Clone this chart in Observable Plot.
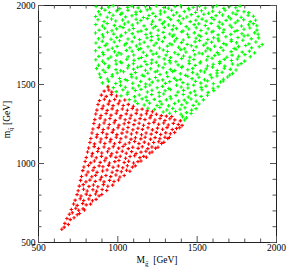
<!DOCTYPE html>
<html>
<head>
<meta charset="utf-8">
<script src="https://cdn.jsdelivr.net/npm/d3@7"></script>
<script src="https://cdn.jsdelivr.net/npm/@observablehq/plot@0.6"></script>
<style>
html, body { margin: 0; padding: 0; background: white; }
</style>
</head>
<body>
<div id="chart"></div>
<script>
// Axis values
const xTicks = [500, 1000, 1500, 2000];
const yTicks = [500, 1000, 1500, 2000];
const minorTicks = [600, 700, 800, 900, 1100, 1200, 1300, 1400, 1600, 1700, 1800, 1900];
const xLabel = ["M", "g\u0303", "\u00a0\u00a0[GeV]"];
const yLabel = ["m", "q\u0303", "\u00a0[GeV]"];

// Green points [M_gluino, m_squark]
const greenPoints = [
[863,1994],[897,1983],[942,1990],[971,1998],[1012,1980],[1062,1988],[1089,1996],[1128,1985],[1174,1992],[1205,1979],[1242,1997],[1290,1987],[1318,1983],[1361,1993],[1396,1999],[1445,1981],[1475,1989],[1515,1995],[1551,1984],[1598,1991],[1624,1998],[1668,1982],[1701,1993],[1743,1986],[1770,1996],
[879,1960],[919,1971],[947,1955],[993,1966],[1026,1952],[1064,1969],[1114,1958],[1143,1963],[1185,1972],[1221,1950],[1268,1965],[1295,1959],[1339,1970],[1371,1954],[1419,1962],[1449,1973],[1490,1956],[1527,1967],[1572,1951],[1598,1964],[1641,1957],[1676,1970],[1725,1953],[1756,1966],[1795,1960],[1825,1955],
[860,1930],[889,1941],[933,1926],[970,1938],[1018,1944],[1049,1928],[1089,1935],[1115,1943],[1161,1924],[1196,1937],[1238,1931],[1268,1946],[1317,1925],[1351,1939],[1390,1933],[1435,1927],[1463,1942],[1506,1930],[1542,1945],[1592,1923],[1619,1936],[1660,1940],[1698,1929],[1745,1944],[1777,1926],[1821,1938],[1854,1932],
[875,1910],[913,1899],[960,1915],[987,1902],[1030,1908],[1065,1896],[1115,1913],[1145,1905],[1186,1917],[1219,1900],[1265,1909],[1293,1897],[1333,1912],[1381,1904],[1412,1916],[1456,1898],[1492,1907],[1531,1914],[1557,1901],[1606,1911],[1640,1895],[1682,1906],[1711,1916],[1756,1903],[1793,1910],[1834,1898],[1868,1907],
[861,1880],[903,1870],[933,1886],[978,1874],[1014,1867],[1042,1883],[1091,1876],[1125,1889],[1165,1871],[1212,1881],[1238,1868],[1281,1885],[1319,1877],[1350,1872],[1396,1888],[1431,1866],[1481,1879],[1510,1884],[1551,1873],[1588,1887],[1632,1869],[1659,1882],[1707,1875],[1740,1890],[1779,1870],[1824,1878],[1854,1885],[1876,1872],
[882,1844],[917,1856],[963,1840],[992,1852],[1033,1860],[1071,1845],[1098,1854],[1146,1838],[1179,1849],[1223,1858],[1254,1843],[1293,1861],[1343,1847],[1369,1855],[1411,1839],[1447,1851],[1494,1859],[1524,1842],[1569,1853],[1601,1837],[1641,1857],[1669,1846],[1718,1862],[1752,1841],[1795,1850],[1832,1858],[1877,1844],
[859,1826],[903,1815],[935,1831],[974,1819],[1021,1812],[1049,1828],[1091,1822],[1127,1834],[1177,1816],[1207,1825],[1252,1810],[1286,1830],[1327,1820],[1354,1813],[1402,1833],[1439,1818],[1482,1827],[1511,1811],[1557,1824],[1592,1832],[1632,1814],[1663,1829],[1712,1817],[1738,1835],[1782,1821],[1820,1812],[1862,1827],[1884,1818],
[878,1790],[909,1801],[957,1786],[993,1797],[1019,1805],[1064,1788],[1104,1799],[1137,1784],[1184,1795],[1213,1803],[1256,1787],[1294,1798],[1344,1806],[1371,1791],[1412,1782],[1447,1800],[1493,1793],[1523,1804],[1567,1785],[1604,1796],[1632,1789],[1681,1802],[1715,1783],[1757,1797],[1796,1807],[1841,1789],[1887,1795],
[862,1763],[902,1774],[931,1757],[977,1769],[1011,1777],[1053,1760],[1090,1771],[1139,1756],[1166,1767],[1210,1779],[1242,1762],[1281,1772],[1328,1758],[1358,1775],[1401,1765],[1437,1754],[1487,1770],[1515,1778],[1556,1761],[1591,1768],[1636,1776],[1667,1759],[1715,1773],[1748,1764],[1788,1780],[1826,1757],[1870,1769],[1910,1753],
[883,1735],[920,1746],[965,1729],[995,1741],[1043,1750],[1076,1733],[1117,1744],[1144,1727],[1190,1739],[1228,1748],[1263,1731],[1312,1743],[1341,1752],[1383,1736],[1419,1726],[1463,1745],[1494,1738],[1541,1749],[1567,1730],[1610,1742],[1649,1734],[1683,1751],[1733,1728],[1761,1740],[1806,1747],[1843,1732],[1891,1739],
[860,1714],[905,1703],[938,1719],[979,1707],[1007,1700],[1054,1716],[1090,1710],[1130,1722],[1160,1704],[1209,1713],[1243,1698],[1286,1718],[1313,1709],[1359,1701],[1397,1721],[1429,1706],[1477,1715],[1512,1699],[1554,1712],[1583,1720],[1627,1702],[1664,1717],[1714,1708],[1745,1723],[1784,1705],[1829,1711],[1862,1700],
[880,1678],[910,1689],[956,1674],[994,1685],[1021,1693],[1065,1676],[1100,1687],[1149,1671],[1181,1683],[1222,1692],[1259,1675],[1304,1686],[1332,1670],[1380,1690],[1414,1680],[1454,1673],[1485,1688],[1532,1694],[1568,1677],[1611,1684],[1637,1691],[1687,1672],[1720,1686],[1762,1679],[1801,1689],[1835,1676],
[861,1657],[904,1647],[939,1663],[987,1650],[1016,1643],[1056,1660],[1102,1653],[1133,1665],[1171,1646],[1215,1656],[1242,1641],[1292,1662],[1325,1651],[1366,1644],[1402,1664],[1449,1649],[1479,1658],[1521,1642],[1560,1655],[1594,1666],[1643,1645],[1671,1659],[1716,1652],[1753,1661],[1799,1648],
[878,1622],[917,1633],[944,1618],[990,1629],[1025,1637],[1067,1620],[1098,1631],[1146,1615],[1183,1627],[1212,1635],[1257,1619],[1297,1630],[1330,1638],[1380,1624],[1406,1614],[1450,1632],[1488,1621],[1518,1636],[1565,1617],[1601,1628],[1642,1634],[1674,1616],[1722,1630],[1757,1623],[1777,1632],
[866,1601],[907,1591],[941,1607],[988,1594],[1018,1587],[1062,1604],[1099,1597],[1125,1609],[1174,1590],[1207,1600],[1249,1585],[1285,1606],[1331,1595],[1359,1588],[1402,1608],[1441,1593],[1472,1602],[1522,1586],[1557,1599],[1597,1610],[1626,1589],[1671,1603],[1709,1596],[1745,1592],
[884,1566],[920,1577],[965,1562],[996,1573],[1036,1581],[1084,1564],[1111,1575],[1154,1559],[1189,1571],[1236,1580],[1266,1563],[1307,1574],[1345,1582],[1394,1568],[1427,1558],[1471,1576],[1500,1565],[1546,1579],[1583,1561],[1625,1572],[1657,1578],[1705,1560],[1723,1570],
[890,1545],[934,1535],[964,1551],[1011,1538],[1047,1531],[1088,1548],[1116,1541],[1165,1553],[1199,1534],[1238,1544],[1283,1529],[1314,1550],[1356,1539],[1393,1532],[1441,1552],[1468,1537],[1511,1546],[1546,1530],[1592,1543],[1625,1554],[1665,1533],[1692,1547],
[903,1510],[941,1521],[987,1506],[1016,1517],[1059,1525],[1094,1508],[1144,1519],[1176,1503],[1217,1515],[1253,1524],[1300,1507],[1327,1518],[1371,1526],[1410,1512],[1441,1502],[1489,1520],[1523,1509],[1565,1523],[1602,1505],[1647,1516],[1665,1522],
[938,1489],[972,1480],[1017,1494],[1047,1483],[1095,1477],[1132,1492],[1174,1485],[1202,1497],[1248,1479],[1281,1488],[1321,1475],[1370,1495],[1399,1484],[1442,1478],[1478,1496],[1525,1482],[1556,1490],[1600,1476],[1632,1486],
[990,1455],[1032,1466],[1063,1451],[1110,1462],[1146,1469],[1186,1453],[1215,1464],[1260,1449],[1298,1460],[1331,1468],[1379,1452],[1414,1463],[1457,1447],[1484,1458],[1530,1467],[1569,1450],[1605,1461],
[1020,1428],[1059,1438],[1105,1423],[1135,1434],[1178,1420],[1213,1436],[1261,1426],[1289,1440],[1330,1422],[1367,1431],[1412,1437],[1444,1421],[1491,1433],[1525,1425],[1565,1432],
[1072,1404],[1109,1395],[1153,1409],[1184,1398],[1230,1406],[1265,1393],[1306,1403],[1335,1410],[1383,1396],[1419,1401],[1461,1408],[1494,1394],[1539,1403],
[1125,1379],[1166,1370],[1200,1382],[1247,1367],[1277,1376],[1320,1365],[1358,1380],[1403,1371],[1435,1384],[1475,1368],[1511,1377],
[1190,1350],[1230,1342],[1265,1354],[1309,1339],[1346,1348],[1392,1343],[1423,1353],[1465,1338],[1493,1347],
[1286,1326],[1327,1318],[1364,1329],[1398,1312],[1433,1322],[1462,1316],
[1408,1296],[1432,1289],[1420,1275]
];

// Red points [M_gluino, m_squark]
const redPoints = [
[647,584],[662,597],
[666,621],[688,614],
[679,652],[700,645],[724,657],
[694,679],[713,688],[744,676],[759,684],
[707,709],[735,717],[753,704],[781,713],[790,706],
[721,744],[744,735],[778,747],[801,738],[828,743],
[731,768],[763,777],[785,766],[817,775],[840,764],[863,773],
[743,803],[768,794],[801,806],[825,797],[860,807],[882,795],[899,804],
[750,828],[784,837],[807,826],[843,834],[866,824],[901,835],[930,829],
[757,857],[782,866],[818,855],[846,864],[874,853],[909,866],[937,856],[967,863],
[765,893],[799,884],[824,895],[858,887],[889,897],[913,884],[948,893],[976,886],[1004,896],
[771,918],[801,927],[836,916],[860,925],[897,914],[925,924],[955,917],[988,927],[1013,915],[1040,924],
[779,955],[812,946],[843,957],[869,944],[904,953],[932,959],[964,945],[995,955],[1022,948],[1055,957],[1076,951],
[786,978],[815,987],[851,975],[882,985],[906,979],[942,988],[970,976],[1003,984],[1031,973],[1060,986],[1092,977],[1110,985],
[794,1013],[829,1004],[852,1016],[889,1007],[918,1017],[947,1003],[981,1012],[1007,1019],[1040,1006],[1068,1014],[1099,1003],[1127,1012],[1146,1016],
[801,1038],[836,1047],[864,1036],[897,1045],[926,1034],[955,1048],[988,1039],[1015,1046],[1049,1033],[1077,1044],[1106,1049],[1139,1037],[1163,1045],[1180,1040],
[809,1073],[840,1064],[873,1076],[899,1066],[935,1074],[962,1062],[994,1071],[1028,1078],[1053,1065],[1087,1075],[1115,1063],[1146,1072],[1177,1078],[1201,1066],[1216,1073],
[816,1098],[851,1107],[878,1095],[913,1104],[944,1093],[971,1106],[1005,1097],[1033,1108],[1066,1094],[1094,1103],[1128,1096],[1154,1106],[1189,1094],[1215,1104],[1238,1097],[1253,1103],
[824,1133],[853,1124],[889,1136],[918,1127],[951,1138],[979,1125],[1012,1134],[1046,1122],[1072,1131],[1106,1139],[1133,1126],[1167,1135],[1194,1123],[1226,1133],[1258,1138],[1276,1127],[1290,1134],
[830,1158],[866,1167],[894,1155],[927,1164],[956,1153],[990,1166],[1019,1157],[1051,1168],[1083,1154],[1111,1163],[1145,1156],[1172,1166],[1206,1154],[1235,1164],[1265,1157],[1297,1166],[1315,1158],[1325,1165],
[837,1193],[870,1184],[903,1196],[931,1186],[965,1197],[994,1183],[1026,1192],[1058,1199],[1085,1187],[1119,1195],[1149,1182],[1178,1193],[1210,1186],[1243,1197],[1270,1184],[1302,1194],[1331,1188],[1358,1196],
[843,1218],[877,1227],[908,1215],[939,1225],[972,1213],[1001,1226],[1033,1217],[1064,1228],[1095,1214],[1127,1223],[1155,1216],[1190,1226],[1218,1213],[1250,1224],[1282,1217],[1310,1227],[1343,1215],[1370,1222],[1390,1226],
[849,1253],[884,1244],[913,1256],[946,1247],[977,1258],[1007,1243],[1040,1252],[1069,1259],[1101,1246],[1134,1255],[1162,1242],[1196,1253],[1227,1260],[1257,1248],[1289,1256],[1318,1244],[1350,1254],[1381,1247],[1405,1241],
[855,1278],[888,1287],[920,1275],[950,1285],[984,1273],[1014,1288],[1046,1277],[1077,1286],[1108,1274],[1140,1284],[1171,1278],[1203,1289],[1234,1275],[1266,1285],[1297,1272],[1328,1283],[1359,1276],[1394,1270],
[861,1313],[894,1304],[926,1316],[957,1306],[990,1318],[1020,1303],[1053,1314],[1084,1305],[1116,1317],[1147,1307],[1180,1315],[1210,1304],[1243,1312],[1274,1303],[1306,1300],[1340,1297],
[868,1338],[901,1347],[933,1336],[964,1346],[996,1334],[1028,1345],[1060,1337],[1091,1348],[1121,1339],[1153,1344],[1185,1333],[1218,1328],
[875,1373],[908,1364],[940,1376],[970,1366],[1003,1378],[1034,1367],[1066,1374],[1098,1362],
[884,1398],[915,1407],[948,1395],[980,1405],[1012,1396],[1044,1402],
[896,1433],[927,1425],[959,1436],[992,1427],
[914,1458],[943,1465],[962,1452],
[938,1484]
];

const W = 287, H = 269;
const mL = 38, mR = 11, mT = 5, mB = 27;
const pw = W - mL - mR, ph = H - mT - mB;
const majorLen = 6, minorLen = 3.5;
const tickColor = "#555";
const font = "Liberation Serif, Times New Roman, serif";

const chart = Plot.plot({
  width: W,
  height: H,
  marginLeft: mL,
  marginRight: mR,
  marginTop: mT,
  marginBottom: mB,
  style: {background: "white", fontFamily: font, fontSize: "9.5px", color: "black"},
  x: {domain: [500, 2000], axis: null},
  y: {domain: [500, 2000], axis: null},
  marks: [
    Plot.frame({stroke: "#222", fill: "none"}),
    Plot.dot(greenPoints, {x: d => d[0], y: d => d[1], symbol: "plus", r: 1.2, stroke: "#00ff00", strokeWidth: 1.1}),
    Plot.dot(redPoints, {x: d => d[0], y: d => d[1], symbol: "plus", r: 1.2, stroke: "#ff0000", strokeWidth: 1.1}),
    // bottom & top ticks
    Plot.tickX(xTicks, {x: d => d, insetTop: ph - majorLen, stroke: tickColor}),
    Plot.tickX(minorTicks, {x: d => d, insetTop: ph - minorLen, stroke: tickColor}),
    Plot.tickX(xTicks, {x: d => d, insetBottom: ph - majorLen, stroke: tickColor}),
    Plot.tickX(minorTicks, {x: d => d, insetBottom: ph - minorLen, stroke: tickColor}),
    // left & right ticks
    Plot.tickY(yTicks, {y: d => d, insetRight: pw - majorLen, stroke: tickColor}),
    Plot.tickY(minorTicks, {y: d => d, insetRight: pw - minorLen, stroke: tickColor}),
    Plot.tickY(yTicks, {y: d => d, insetLeft: pw - majorLen, stroke: tickColor}),
    Plot.tickY(minorTicks, {y: d => d, insetLeft: pw - minorLen, stroke: tickColor}),
    Plot.text(xTicks, {x: d => d, frameAnchor: "bottom", dy: 8, text: d => String(d), fontFamily: font, fontSize: 9.5}),
    Plot.text(yTicks, {y: d => d, frameAnchor: "left", dx: -3, textAnchor: "end", text: d => String(d), fontFamily: font, fontSize: 9.5})
  ]
});

document.getElementById("chart").appendChild(chart);

const svg = d3.select(chart);
const xt = svg.append("text")
  .attr("x", mL + pw / 2).attr("y", 263)
  .attr("text-anchor", "middle")
  .style("font-family", font).style("font-size", "9.5px").attr("fill", "black");
xt.append("tspan").text(xLabel[0]);
xt.append("tspan").attr("dy", 2.5).style("font-size", "7px").text(xLabel[1]);
xt.append("tspan").attr("dy", -2.5).text(xLabel[2]);

const yt = svg.append("text")
  .attr("transform", `translate(10,${mT + ph / 2 - 4}) rotate(-90)`)
  .attr("text-anchor", "middle")
  .style("font-family", font).style("font-size", "9.5px").attr("fill", "black");
yt.append("tspan").text(yLabel[0]);
yt.append("tspan").attr("dy", 2.5).style("font-size", "7px").text(yLabel[1]);
yt.append("tspan").attr("dy", -2.5).text(yLabel[2]);
</script>
</body>
</html>
